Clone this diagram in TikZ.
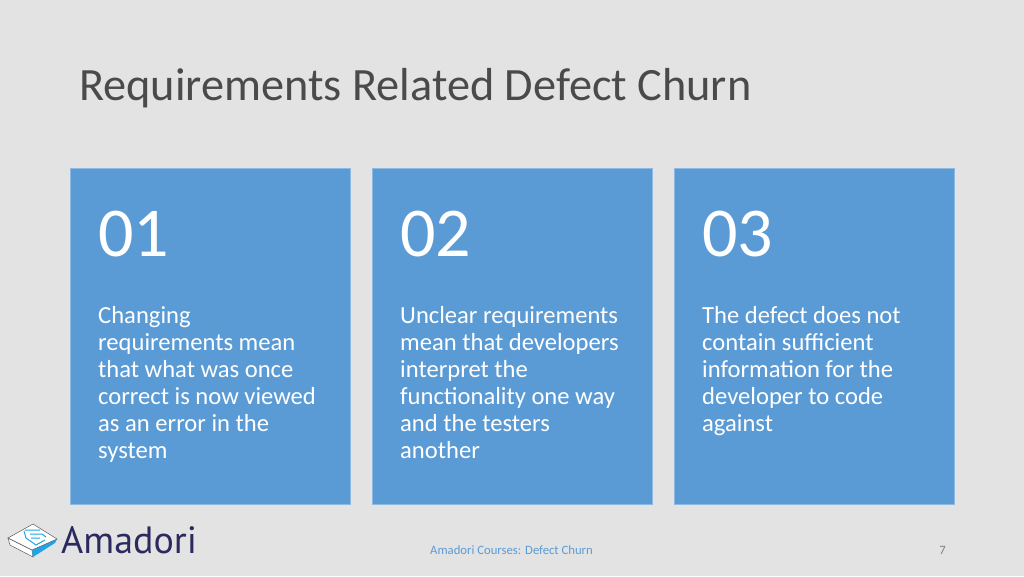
\documentclass[tikz,border=0pt]{standalone}
\usepackage{fontspec}
\setmainfont{Carlito}
\newfontfamily\logofont{PT Sans}
\usepackage{xcolor}
\definecolor{slidebg}{HTML}{E3E3E3}
\definecolor{cardblue}{HTML}{5B9BD5}
\definecolor{cardedge}{HTML}{8DB9E2}
\definecolor{titlegray}{HTML}{4A4A4A}
\definecolor{logonavy}{HTML}{2B2A5E}
\definecolor{logoblue}{HTML}{1FA5E6}
\tikzset{
  cardbox/.style={fill=cardblue, draw=cardedge, line width=0.6pt, minimum width=280pt, minimum height=336pt, inner sep=0pt, anchor=north west},
  cardnum/.style={text=white, font=\fontsize{70}{70}\selectfont, inner sep=0pt, anchor=base west},
  cardtext/.style={text=white, font=\fontsize{24.6}{27}\selectfont, inner sep=0pt, anchor=north west, align=left},
  footer/.style={font=\fontsize{12.7}{14}\selectfont, inner sep=0pt}
}
\begin{document}
\begin{tikzpicture}[x=1pt,y=-1pt]
\useasboundingbox (0,0) rectangle (1024,576);
% Background
\fill[slidebg] (0,0) rectangle (1024,576);

% Title
\node[anchor=base west, inner sep=0pt, text=titlegray, font=\fontsize{46.3}{46}\selectfont] (title) at (79,100) {Requirements Related Defect Churn};

% Cards
\node[cardbox] (card1) at (70,168) {};
\node[cardbox] (card2) at (372,168) {};
\node[cardbox] (card3) at (673.5,168) {};

% Numbers
\node[cardnum] (num1) at (98,256) {01};
\node[cardnum] (num2) at (400,256) {02};
\node[cardnum] (num3) at (702,256) {03};

% Card texts
\node[cardtext] (text1) at (98,306) {Changing\\requirements mean\\that what was once\\correct is now viewed\\as an error in the\\system};
\node[cardtext] (text2) at (400,306) {Unclear requirements\\mean that developers\\interpret the\\functionality one way\\and the testers\\another};
\node[cardtext] (text3) at (702,306) {The defect does not\\contain sufficient\\information for the\\developer to code\\against};

% Logo: tilted box
\fill[white, draw=gray!70!black, line width=0.5pt] (8,538) -- (32,550) -- (33,557) -- (10,545) -- cycle;
\fill[logoblue] (32,550) -- (57,539) -- (55,543) -- (33,557) -- cycle;
\fill[white, draw=gray!70!black, line width=0.5pt] (8,538) -- (33,524) -- (57,539) -- (32,550) -- cycle;
\draw[logoblue, line width=1pt] (25,530) -- (40,530) (24,531) -- (26,538) -- (36,545) -- (45,540) (30,534) -- (42,534) -- (46,537) (31,538) -- (40,538);
\node[anchor=base west, inner sep=0pt, text=logonavy, font=\logofont\fontsize{38}{38}\selectfont] (logo) at (61,553) {Amadori};

% Footer
\node[footer, text=cardblue, anchor=base west] (foot) at (430,554) {Amadori Courses: Defect Churn};
\node[footer, text=gray, anchor=base east] (page) at (946,554) {7};
\end{tikzpicture}
\end{document}
